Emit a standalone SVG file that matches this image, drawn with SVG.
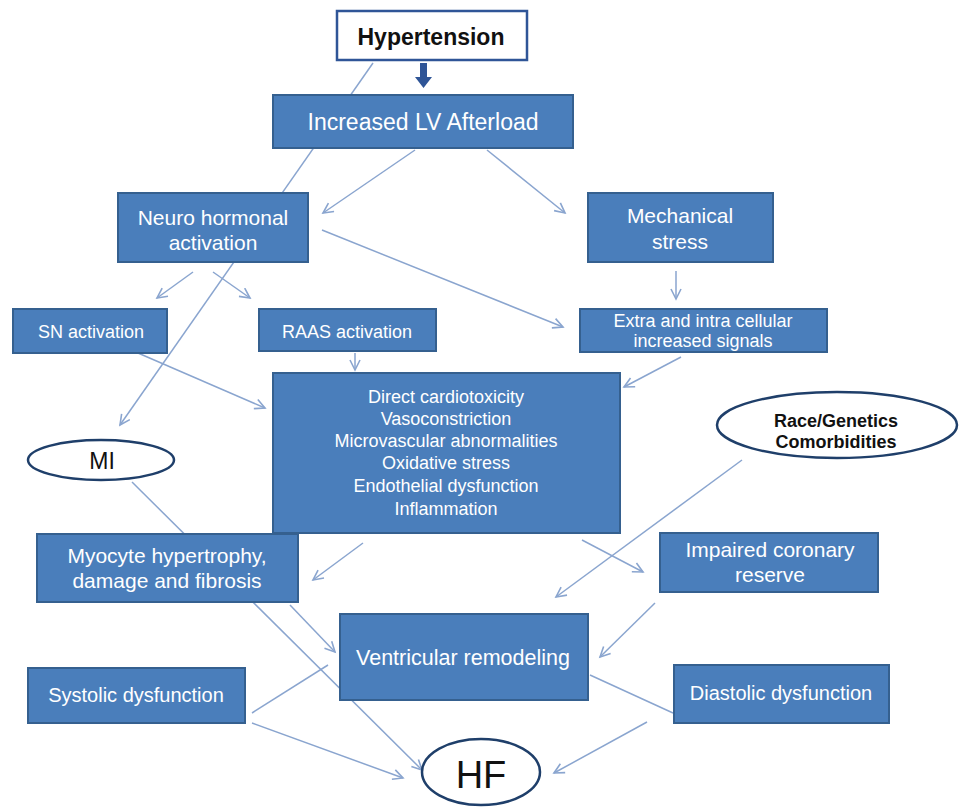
<svg xmlns="http://www.w3.org/2000/svg" width="959" height="807" viewBox="0 0 959 807">
<defs>
<style>
.box{fill:#4a7ebb;stroke:#35608f;stroke-width:2}
.ell{fill:#ffffff;stroke:#1f3f6a;stroke-width:2.5}
.t{font-family:"Liberation Sans",Arial,sans-serif;fill:#ffffff;text-anchor:middle}
.k{font-family:"Liberation Sans",Arial,sans-serif;fill:#111111;text-anchor:middle}
.c{stroke:#8aa5cf;stroke-width:1.5;fill:none}
.a{marker-end:url(#arr)}
</style>
<marker id="arr" markerUnits="userSpaceOnUse" markerWidth="14" markerHeight="14" refX="11" refY="6" orient="auto">
<path d="M1,1 L11,6 L1,11" fill="none" stroke="#8aa5cf" stroke-width="1.6"/>
</marker>
</defs>
<rect width="959" height="807" fill="#ffffff"/>
<g id="connectors">
<line class="c a" x1="373" y1="63" x2="120" y2="425"/>
<line class="c a" x1="415" y1="150" x2="323" y2="213"/>
<line class="c a" x1="487" y1="150" x2="565" y2="213"/>
<line class="c a" x1="322" y1="230" x2="563" y2="327"/>
<line class="c a" x1="676" y1="271" x2="676" y2="299"/>
<line class="c a" x1="193" y1="272" x2="157" y2="298"/>
<line class="c a" x1="213" y1="272" x2="250" y2="298"/>
<line class="c a" x1="355" y1="353" x2="355" y2="370"/>
<line class="c a" x1="138" y1="353" x2="265" y2="408"/>
<line class="c a" x1="681" y1="357" x2="624" y2="387"/>
<line class="c a" x1="363" y1="543" x2="313" y2="580"/>
<line class="c a" x1="582" y1="540" x2="643" y2="572"/>
<line class="c a" x1="742" y1="460" x2="556" y2="597"/>
<line class="c a" x1="132" y1="482" x2="422" y2="770"/>
<line class="c a" x1="290" y1="605" x2="335" y2="652"/>
<line class="c a" x1="655" y1="603" x2="600" y2="657"/>
<line class="c" x1="252" y1="713" x2="328" y2="665"/>
<line class="c a" x1="252" y1="723" x2="403" y2="778"/>
<line class="c" x1="590" y1="675" x2="673" y2="713"/>
<line class="c a" x1="647" y1="722" x2="554" y2="773"/>
<path d="M420,63 H427 V77 H432 L423.5,88 L415,77 H420 Z" fill="#2f5597"/>
</g>
<g id="hypertension">
<rect x="337" y="11" width="190" height="49" fill="#ffffff" stroke="#2f5597" stroke-width="2.5"/>
<text class="k" x="431" y="45" font-size="23" font-weight="bold">Hypertension</text>
</g>
<g id="lv-afterload">
<rect class="box" x="273" y="95" width="300" height="53"/>
<text class="t" x="423" y="130" font-size="23">Increased LV Afterload</text>
</g>
<g id="neurohormonal">
<rect class="box" x="118" y="193" width="190" height="69"/>
<text class="t" x="213" y="225" font-size="21">Neuro hormonal</text>
<text class="t" x="213" y="250" font-size="21">activation</text>
</g>
<g id="mechanical">
<rect class="box" x="588" y="193" width="185" height="69"/>
<text class="t" x="680" y="223" font-size="21">Mechanical</text>
<text class="t" x="680" y="249" font-size="21">stress</text>
</g>
<g id="sn">
<rect class="box" x="13" y="309" width="154" height="44"/>
<text class="t" x="91" y="338" font-size="18">SN activation</text>
</g>
<g id="raas">
<rect class="box" x="259" y="309" width="177" height="42"/>
<text class="t" x="347" y="338" font-size="18">RAAS activation</text>
</g>
<g id="extra">
<rect class="box" x="580" y="309" width="247" height="43"/>
<text class="t" x="703" y="327" font-size="18">Extra and intra cellular</text>
<text class="t" x="703" y="347" font-size="18">increased signals</text>
</g>
<g id="mechanisms">
<rect class="box" x="273" y="373" width="347" height="160"/>
<text class="t" x="446" y="403" font-size="18">Direct cardiotoxicity</text>
<text class="t" x="446" y="425" font-size="18">Vasoconstriction</text>
<text class="t" x="446" y="447" font-size="18">Microvascular abnormalities</text>
<text class="t" x="446" y="469" font-size="18">Oxidative stress</text>
<text class="t" x="446" y="492" font-size="18">Endothelial dysfunction</text>
<text class="t" x="446" y="515" font-size="18">Inflammation</text>
</g>
<g id="race">
<ellipse class="ell" cx="837" cy="425" rx="120" ry="33"/>
<text class="k" x="836" y="427" font-size="18" font-weight="bold">Race/Genetics</text>
<text class="k" x="836" y="448" font-size="18" font-weight="bold">Comorbidities</text>
</g>
<g id="mi">
<ellipse class="ell" cx="101" cy="460" rx="73" ry="20"/>
<text class="k" x="102" y="469" font-size="23">MI</text>
</g>
<g id="myocyte">
<rect class="box" x="37" y="534" width="261" height="68"/>
<text class="t" x="167" y="563" font-size="21">Myocyte hypertrophy,</text>
<text class="t" x="167" y="588" font-size="21">damage and fibrosis</text>
</g>
<g id="coronary">
<rect class="box" x="660" y="533" width="218" height="59"/>
<text class="t" x="770" y="557" font-size="21">Impaired coronary</text>
<text class="t" x="770" y="582" font-size="21">reserve</text>
</g>
<g id="remodeling">
<rect class="box" x="340" y="614" width="248" height="86"/>
<text class="t" x="463" y="665" font-size="21.5">Ventricular remodeling</text>
</g>
<g id="systolic">
<rect class="box" x="28" y="668" width="217" height="55"/>
<text class="t" x="136" y="702" font-size="20">Systolic dysfunction</text>
</g>
<g id="diastolic">
<rect class="box" x="674" y="665" width="215" height="58"/>
<text class="t" x="781" y="700" font-size="20">Diastolic dysfunction</text>
</g>
<g id="hf">
<ellipse class="ell" cx="481" cy="772" rx="59" ry="33"/>
<text class="k" x="481" y="788" font-size="38">HF</text>
</g>
</svg>
